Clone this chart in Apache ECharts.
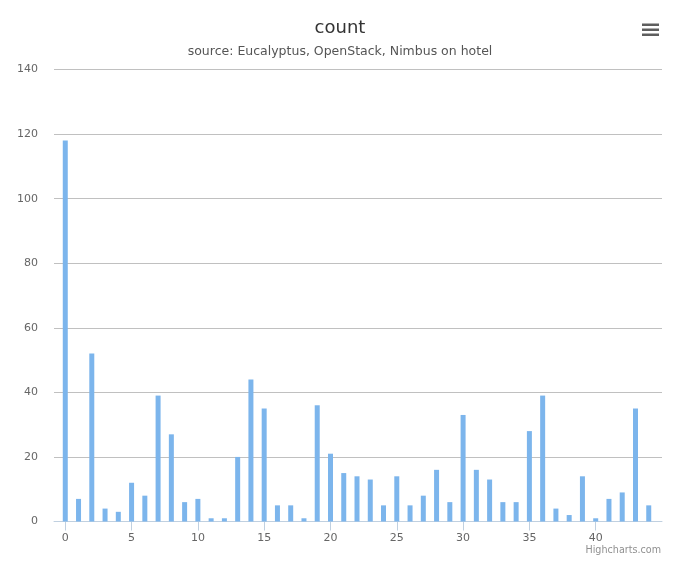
<!DOCTYPE html>
<html>
<head>
<meta charset="utf-8">
<script src="https://cdn.jsdelivr.net/npm/echarts@6/dist/echarts.min.js"></script>
<style>
html,body{margin:0;padding:0;background:#fff;}
#chart{width:680px;height:566px;}
</style>
</head>
<body>
<div id="chart"></div>
<script>
const titleText = 'count';
const subtitleText = 'source: Eucalyptus, OpenStack, Nimbus on hotel';
const xValues = [0,1,2,3,4,5,6,7,8,9,10,11,12,13,14,15,16,17,18,19,20,21,22,23,24,25,26,27,28,29,30,31,32,33,34,35,36,37,38,39,40,41,42,43,44];
const counts = [118,7,52,4,3,12,8,39,27,6,7,1,1,20,44,35,5,5,1,36,21,15,14,13,5,14,5,8,16,6,33,16,13,6,6,28,39,4,2,14,1,7,9,35,5];
const xTicks = [0,5,10,15,20,25,30,35,40];
const yTicks = [0,20,40,60,80,100,120,140];

const chart = echarts.init(document.getElementById('chart'), null, {renderer:'canvas'});
const FONT = 'DejaVu Sans';
chart.setOption({
  animation:false,
  backgroundColor:'#ffffff',
  textStyle:{fontFamily:FONT},
  title:[
    {text:titleText,left:'center',top:19,padding:0,
     textStyle:{fontFamily:FONT,fontSize:18,fontWeight:'normal',color:'#333333'}},
    {text:subtitleText,left:'center',top:45,padding:0,
     textStyle:{fontFamily:FONT,fontSize:12.5,fontWeight:'normal',color:'#555555'}}
  ],
  grid:{left:54,top:69.5,width:608,height:452,containLabel:false},
  xAxis:{
    type:'value',min:-0.85,max:45,
    splitLine:{show:false},
    axisLine:{show:true,lineStyle:{color:'#C0D0E0',width:1}},
    axisTick:{show:true,customValues:xTicks,length:9,lineStyle:{color:'#C0D0E0'}},
    axisLabel:{customValues:xTicks,color:'#666666',fontSize:11,margin:11,fontFamily:FONT}
  },
  yAxis:{
    type:'value',min:yTicks[0],max:yTicks[yTicks.length-1],interval:20,
    axisLine:{show:false},axisTick:{show:false},
    splitLine:{show:true,lineStyle:{color:'#C0C0C0',width:1}},
    axisLabel:{color:'#666666',fontSize:11,margin:16,fontFamily:FONT}
  },
  series:[{
    type:'bar',
    data:xValues.map((x,i)=>[x,counts[i]]),
    barWidth:5,
    itemStyle:{color:'#7cb5ec'}
  }],
  graphic:[
    {type:'rect',shape:{x:642,y:23.5,width:17,height:2.5},style:{fill:'#5e5e5e'}},
    {type:'rect',shape:{x:642,y:28.5,width:17,height:2.5},style:{fill:'#5e5e5e'}},
    {type:'rect',shape:{x:642,y:33.5,width:17,height:2.5},style:{fill:'#5e5e5e'}},
    {type:'text',right:19,top:545,style:{text:'Highcharts.com',fill:'#909090',font:'9.6px "DejaVu Sans"'}}
  ]
});
</script>
</body>
</html>
